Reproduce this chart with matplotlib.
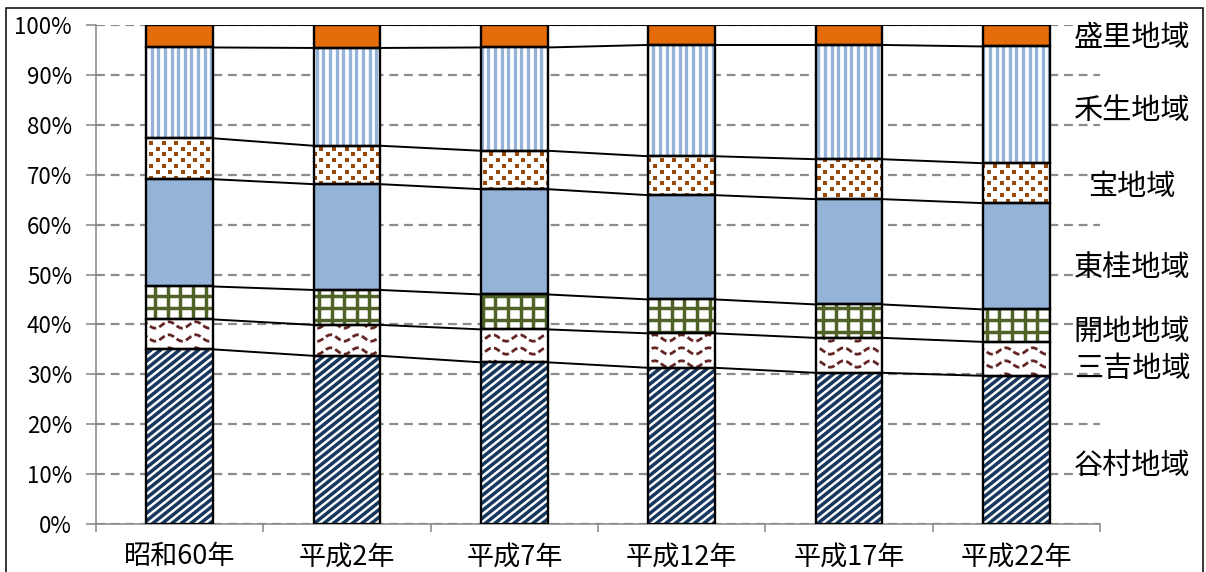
import numpy as np
import matplotlib
matplotlib.use("Agg")
import matplotlib.pyplot as plt
from matplotlib.collections import LineCollection
from matplotlib.lines import Line2D
from matplotlib.patches import Rectangle
from matplotlib.transforms import IdentityTransform, blended_transform_factory

plt.rcParams['font.family'] = ['Noto Sans CJK JP', 'DejaVu Sans']

# ---- data: share of population by district (%) ----
years = ['昭和60年', '平成2年', '平成7年', '平成12年', '平成17年', '平成22年']
regions = ['谷村地域', '三吉地域', '開地地域', '東桂地域', '宝地域', '禾生地域', '盛里地域']
tanimura = [35.0, 33.7, 32.4, 31.3, 30.3, 29.7]
mitsuyoshi = [6.0, 6.2, 6.6, 6.9, 7.0, 6.8]
kaichi = [6.6, 7.0, 7.0, 6.8, 6.7, 6.5]
higashikatsura = [21.5, 21.2, 21.1, 20.9, 21.1, 21.3]
takara = [8.2, 7.7, 7.7, 7.8, 8.0, 8.0]
kasei = [18.2, 19.6, 20.7, 22.3, 22.9, 23.4]
morisato = [4.5, 4.6, 4.5, 4.0, 4.0, 4.3]
yticks = [0, 10, 20, 30, 40, 50, 60, 70, 80, 90, 100]
ytick_labels = ['0%', '10%', '20%', '30%', '40%', '50%', '60%', '70%', '80%', '90%', '100%']

series = [tanimura, mitsuyoshi, kaichi, higashikatsura, takara, kasei, morisato]

# ---- layout ----
W, H, DPI = 1206, 572, 100
fig = plt.figure(figsize=(W / DPI, H / DPI), dpi=DPI)
ax = fig.add_axes([96 / W, (H - 524) / H, 1004 / W, 499 / H])
ax.set_xlim(-0.5, len(years) - 0.5)
ax.set_ylim(0, 100)

x = np.arange(len(years))
bw = 0.4

face = ['white', 'white', 'white', '#95B3D7', 'white', 'white', '#E46C0A']
gray = '#868686'

# grid
ax.set_axisbelow(True)
ax.yaxis.grid(True, color='#8C8C8C', lw=1.6, linestyle=(0, (4, 2.6)))

bottom = np.zeros(len(years))
bars = []
tops = []
for vals, fc in zip(series, face):
    vals = np.asarray(vals, dtype=float)
    bc = ax.bar(x, vals, bw, bottom=bottom, color=fc, edgecolor='none', zorder=2)
    bars.append(bc)
    ax.bar(x, vals, bw, bottom=bottom, fill=False, edgecolor='black', lw=1.7, zorder=5)
    bottom = bottom + vals
    tops.append(bottom.copy())


def px_box(rect):
    bb = rect.get_window_extent()
    return bb.x0, bb.y0, bb.x1, bb.y1


def add_segs(rect, segs, color, lw, ls='solid'):
    lc = LineCollection(segs, colors=color, linewidths=lw, linestyles=ls,
                        transform=IdentityTransform(), zorder=3, capstyle='butt')
    ax.add_collection(lc, autolim=False)
    # clip to the bar after the axes has attached its own default clip
    lc.set_clip_path(rect)


def diag_fill(rect, color, h=9.5, slope=0.8, lw=2.5):
    x0, y0, x1, y1 = px_box(rect)
    run = (y1 - y0) / slope
    start = np.floor((x0 - run) / h) * h - h
    segs = [[(c, y0), (c + run, y1)] for c in np.arange(start, x1 + h, h)]
    add_segs(rect, segs, color, lw)


def vstripe_fill(rect, color, p=6.6, lw=2.4):
    x0, y0, x1, y1 = px_box(rect)
    segs = [[(c, y0 - 2), (c, y1 + 2)] for c in np.arange(np.floor(x0 / p) * p, x1 + p, p)]
    add_segs(rect, segs, color, lw)


def grid_fill(rect, color, px=12.6, py=12.0, lw=2.5):
    x0, y0, x1, y1 = px_box(rect)
    segs = [[(c, y0 - 2), (c, y1 + 2)] for c in np.arange(np.floor(x0 / px) * px + 4, x1 + px, px)]
    segs += [[(x0 - 2, r), (x1 + 2, r)] for r in np.arange(np.floor(y0 / py) * py, y1 + py, py)]
    add_segs(rect, segs, color, lw)


def wave_fill(rect, color, period=27.0, amp=3.2, row=13.0, lw=2.0):
    x0, y0, x1, y1 = px_box(rect)
    xs = np.arange(x0 - 5, x1 + 5, 0.5)
    segs = []
    for r in np.arange(np.floor(y0 / row) * row, y1 + row, row):
        ys = r + amp * np.sin(2 * np.pi * xs / period)
        segs.append(np.column_stack([xs, ys]))
    add_segs(rect, segs, color, lw, ls=(0, (2.4, 1.2)))


def dot_fill(rect, color, px=12.6, py=5.8, ms=2.6):
    x0, y0, x1, y1 = px_box(rect)
    xs, ys = [], []
    for r in np.arange(np.floor(y0 / py) * py, y1 + py, py):
        off = (px / 2) * (int(round(r / py)) % 2)
        for c in np.arange(np.floor(x0 / px) * px - px + off, x1 + px, px):
            xs.append(c)
            ys.append(r)
    ln = Line2D(xs, ys, linestyle='none', marker='s', ms=ms, mew=0,
                color=color, transform=IdentityTransform(), zorder=3)
    ax.add_line(ln)
    ln.set_clip_path(rect)


for rect in bars[0]:
    diag_fill(rect, '#17375E')
for rect in bars[1]:
    wave_fill(rect, '#632523')
for rect in bars[2]:
    grid_fill(rect, '#4F6228')
for rect in bars[4]:
    dot_fill(rect, '#984807')
for rect in bars[5]:
    vstripe_fill(rect, '#95B3D7')

# series lines joining the stacked boundaries
links = []
for lvl in tops:
    for i in range(len(years) - 1):
        links.append([(x[i] + bw / 2, lvl[i]), (x[i + 1] - bw / 2, lvl[i + 1])])
ax.add_collection(LineCollection(links, colors='black', linewidths=1.4, zorder=4), autolim=False)

# axes styling
for s in ['top', 'right']:
    ax.spines[s].set_visible(False)
for s in ['left', 'bottom']:
    ax.spines[s].set_color(gray)
    ax.spines[s].set_linewidth(1.1)

ax.set_xlim(-0.5, len(years) - 0.5)
ax.set_ylim(0, 100)
ax.set_yticks(yticks, ytick_labels)
ax.tick_params(axis='y', length=7.2, width=1.1, color=gray, labelsize=16, pad=10)
ax.set_xticks(x, years)
ax.set_xticks(np.arange(-0.5, len(years)), minor=True)
ax.tick_params(axis='x', which='major', length=0, labelsize=19.5, pad=14)
ax.tick_params(axis='x', which='minor', length=5.8, width=1.1, color=gray)

# district names on the right
label_y = [11.7, 31.1, 38.5, 51.3, 67.6, 82.7, 97.3]
trans = blended_transform_factory(ax.transAxes, ax.transData)
for name, yy in zip(regions, label_y):
    ax.text(1.032, yy, name, transform=trans, ha='center', va='center',
            fontsize=21, clip_on=False)

# outer frame
fig.add_artist(Rectangle((6, -20), 1197, 584, fill=False, ec='black', lw=1.1,
                         transform=IdentityTransform()))

fig.savefig('out.png', dpi=DPI)
